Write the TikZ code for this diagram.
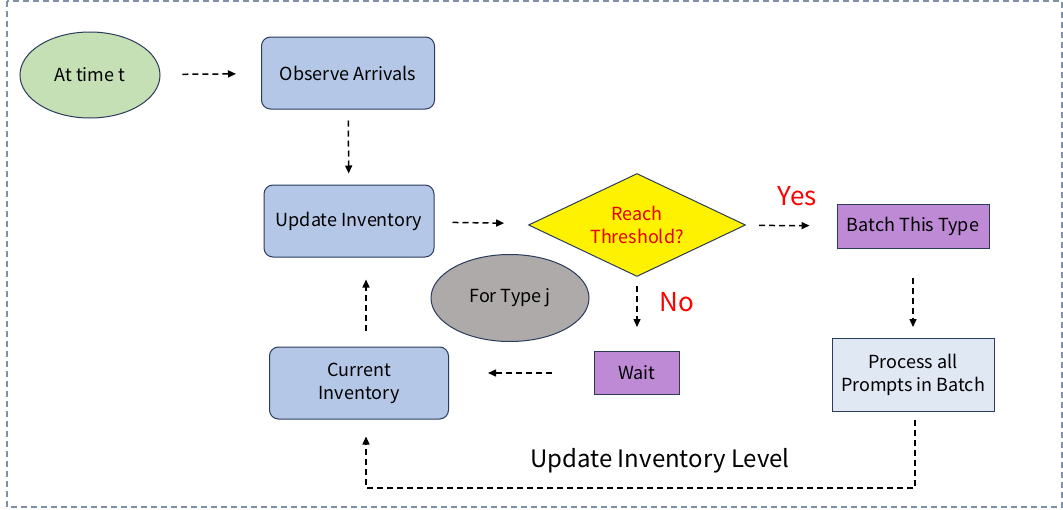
\documentclass[tikz,border=0pt]{standalone}
\usepackage{fontspec}
\setmainfont{Noto Sans CJK KR}
\usetikzlibrary{shapes.geometric,arrows.meta}
\definecolor{edge}{HTML}{2A3B5C}
\definecolor{startgreen}{HTML}{C5E0B4}
\definecolor{boxblue}{HTML}{B4C7E7}
\definecolor{batchpurple}{HTML}{BF8AD5}
\definecolor{typegray}{HTML}{AEAAAA}
\definecolor{procblue}{HTML}{E0E8F4}
\definecolor{framegray}{HTML}{8090A8}
\begin{document}
\begin{tikzpicture}
  [x=1pt,y=-1pt,
   every node/.style={draw=edge,line width=1pt,inner sep=0pt,align=center,
     font=\fontsize{18}{23}\selectfont},
   flow/.style={line width=1.5pt,dash pattern=on 6pt off 4pt,
     -{Triangle[length=8pt,width=7pt]}}]
  \tikzstyle{oval} = [ellipse]
  \tikzstyle{roundbox} = [rounded corners=9pt,fill=boxblue]
  \tikzstyle{purplebox} = [fill=batchpurple]
  \tikzstyle{tag} = [draw=none,text=red,font=\fontsize{26}{30}\selectfont]
  \useasboundingbox (0,0) rectangle (1063,509);
  \draw[framegray,line width=1.3pt,dash pattern=on 6pt off 4pt] (7,1) rectangle (1062,507);

  \node[oval,fill=startgreen,minimum width=140,minimum height=86] (time) at (90,75) {At time t};
  \node[roundbox,minimum width=173,minimum height=72] (obs) at (348,73) {Observe Arrivals};
  \node[roundbox,minimum width=170,minimum height=72] (upd) at (349,221) {Update Inventory};
  \node[diamond,shape aspect=2.1,fill=yellow,text=red!90!black,minimum width=217,minimum height=103] (dia) at (637,225) {Reach\\Threshold?};
  \node[purplebox,minimum width=152,minimum height=44] (batch) at (913,226) {Batch This Type};
  \node[fill=procblue,minimum width=162,minimum height=73] (proc) at (913,375) {Process all\\Prompts in Batch};
  \node[purplebox,minimum width=85,minimum height=43] (wait) at (637,373) {Wait};
  \node[oval,fill=typegray,minimum width=158,minimum height=87] (type) at (510,298) {For Type j};
  \node[roundbox,minimum width=179,minimum height=72] (cur) at (359,383) {Current\\Inventory};

  \node[tag] (yes) at (797,196) {Yes};
  \node[tag] (no) at (677,302) {No};
  \node[draw=none,font=\fontsize{24}{28}\selectfont] (lvl) at (660,461) {Update Inventory Level};

  \coordinate (loopr) at (915,488);
  \coordinate (loopl) at (366,488);

  \foreach \source/\dest/\sa/\sb in {time/obs/22/25,obs/upd/11/11,upd/dia/18/27,
      dia/batch/14/27,batch/proc/29/11,dia/wait/9/24}
    \draw[flow,shorten <=\sa pt,shorten >=\sb pt] (\source) -- (\dest);
  \draw[flow,shorten <=42pt,shorten >=39pt] (wait.west) -- (wait.west -| cur.east);
  \draw[flow,shorten <=16pt,shorten >=22pt] (cur.north -| loopl) -- (upd.south -| loopl);
  \draw[flow,shorten <=8pt,shorten >=17pt] (proc.south -| loopr) -- (loopr) -- (loopl) -- (cur.south -| loopl);
\end{tikzpicture}
\end{document}
